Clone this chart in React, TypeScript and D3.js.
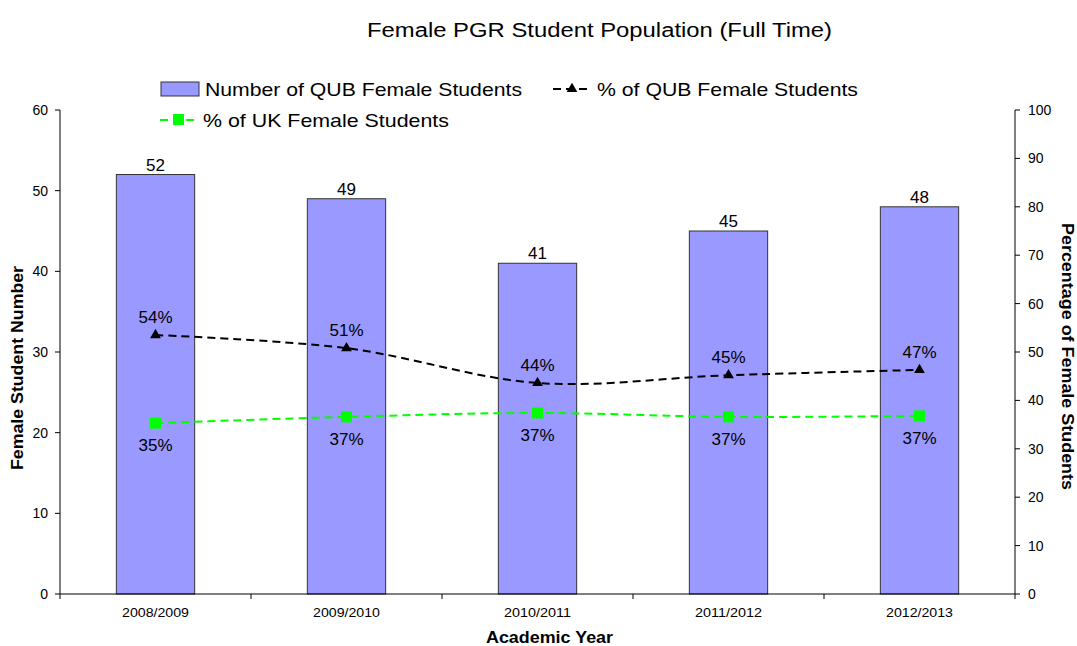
import React from "react";
import * as d3 from "d3";

const categories = ["2008/2009", "2009/2010", "2010/2011", "2011/2012", "2012/2013"];
const femaleCounts = [52, 49, 41, 45, 48];
const qubPercent = [53.5, 50.8, 43.6, 45.2, 46.3];
const qubLabels = ["54%", "51%", "44%", "45%", "47%"];
const ukPercent = [35.3, 36.6, 37.4, 36.6, 36.8];
const ukLabels = ["35%", "37%", "37%", "37%", "37%"];
const leftTicks = [0, 10, 20, 30, 40, 50, 60];
const rightTicks = [0, 10, 20, 30, 40, 50, 60, 70, 80, 90, 100];

const W = 1077, H = 646;
const L = 60, R = 1015, T = 110, B = 594;
const FONT = "'Liberation Sans', Arial, sans-serif";

export default function App() {
  const x = d3.scaleBand<string>().domain(categories).range([L, R]).paddingInner(0).paddingOuter(0);
  const yL = d3.scaleLinear().domain([0, 60]).range([B, T]);
  const yR = d3.scaleLinear().domain([0, 100]).range([B, T]);
  const bw = x.bandwidth() * 0.41;
  const cx = (c: string) => (x(c) as number) + x.bandwidth() / 2;

  const line = d3.line<number>().x((_, i) => cx(categories[i])).y((d) => yR(d)).curve(d3.curveCatmullRom.alpha(0.5));

  return (
    <svg width={W} height={H} style={{ position: "absolute", left: 0, top: 0, fontFamily: FONT }}>
      <rect width={W} height={H} fill="#fff" />
      <text x={367} y={37} fontSize={20} fill="#000" textLength={465} lengthAdjust="spacingAndGlyphs">Female PGR Student Population (Full Time)</text>

      {/* legend */}
      <rect x={161} y={82} width={38} height={14} fill="#9999FF" stroke="#333" strokeWidth={1} />
      <text x={205} y={96} fontSize={19} textLength={317} lengthAdjust="spacingAndGlyphs">Number of QUB Female Students</text>
      <line x1={553} x2={590} y1={89} y2={89} stroke="#000" strokeWidth={2} strokeDasharray="8,5" />
      <path d={d3.symbol().type(d3.symbolTriangle).size(50)() as string} transform="translate(572,89)" fill="#000" />
      <text x={597} y={96} fontSize={19} textLength={261} lengthAdjust="spacingAndGlyphs">% of QUB Female Students</text>
      <line x1={160} x2={197} y1={120} y2={120} stroke="#00FF00" strokeWidth={2} strokeDasharray="8,5" />
      <rect x={173} y={114} width={11} height={11} fill="#00FF00" />
      <text x={203} y={127} fontSize={19} textLength={246} lengthAdjust="spacingAndGlyphs">% of UK Female Students</text>

      {/* bars */}
      {categories.map((c, i) => (
        <g key={c}>
          <rect x={cx(c) - bw / 2} y={yL(femaleCounts[i])} width={bw} height={B - yL(femaleCounts[i])} fill="#9999FF" stroke="#333" strokeWidth={1} />
          <text x={cx(c)} y={yL(femaleCounts[i]) - 4} textAnchor="middle" fontSize={17}>{femaleCounts[i]}</text>
        </g>
      ))}

      {/* axes */}
      <line x1={L} x2={L} y1={T} y2={B} stroke="#000" />
      {leftTicks.map((t) => (
        <g key={t}>
          <line x1={L - 5} x2={L} y1={yL(t)} y2={yL(t)} stroke="#000" />
          <text x={L - 12} y={yL(t) + 5} textAnchor="end" fontSize={14}>{t}</text>
        </g>
      ))}
      <line x1={R} x2={R} y1={T} y2={B} stroke="#000" />
      {rightTicks.map((t) => (
        <g key={t}>
          <line x1={R} x2={R + 5} y1={yR(t)} y2={yR(t)} stroke="#000" />
          <text x={R + 13} y={yR(t) + 5} textAnchor="start" fontSize={14}>{t}</text>
        </g>
      ))}
      <line x1={L} x2={R} y1={B} y2={B} stroke="#000" />
      {categories.map((c, i) => (
        <g key={c}>
          <line x1={(x(c) as number)} x2={(x(c) as number)} y1={B} y2={B + 5} stroke="#000" />
          <text x={cx(c) - 33.5} y={617} fontSize={13} textLength={67} lengthAdjust="spacingAndGlyphs">{c}</text>
        </g>
      ))}
      <line x1={R} x2={R} y1={B} y2={B + 5} stroke="#000" />

      {/* lines */}
      <path d={line(qubPercent) as string} fill="none" stroke="#000" strokeWidth={2} strokeDasharray="8,5" />
      <path d={line(ukPercent) as string} fill="none" stroke="#00FF00" strokeWidth={2} strokeDasharray="8,5" />
      {categories.map((c, i) => (
        <g key={c}>
          <path d={d3.symbol().type(d3.symbolTriangle).size(50)() as string} transform={`translate(${cx(c)},${yR(qubPercent[i])})`} fill="#000" />
          <text x={cx(c)} y={yR(qubPercent[i]) - 12} textAnchor="middle" fontSize={17}>{qubLabels[i]}</text>
          <rect x={cx(c) - 5.5} y={yR(ukPercent[i]) - 5.5} width={11} height={11} fill="#00FF00" />
          <text x={cx(c)} y={yR(ukPercent[i]) + 28} textAnchor="middle" fontSize={17}>{ukLabels[i]}</text>
        </g>
      ))}

      {/* axis titles */}
      <text transform="translate(23,470) rotate(-90)" fontSize={16} fontWeight="bold" textLength={204} lengthAdjust="spacingAndGlyphs">Female Student Number</text>
      <text transform="translate(1062,223) rotate(90)" fontSize={16} fontWeight="bold" textLength={267} lengthAdjust="spacingAndGlyphs">Percentage of Female Students</text>
      <text x={486} y={643} fontSize={16} fontWeight="bold" textLength={127} lengthAdjust="spacingAndGlyphs">Academic Year</text>
    </svg>
  );
}
